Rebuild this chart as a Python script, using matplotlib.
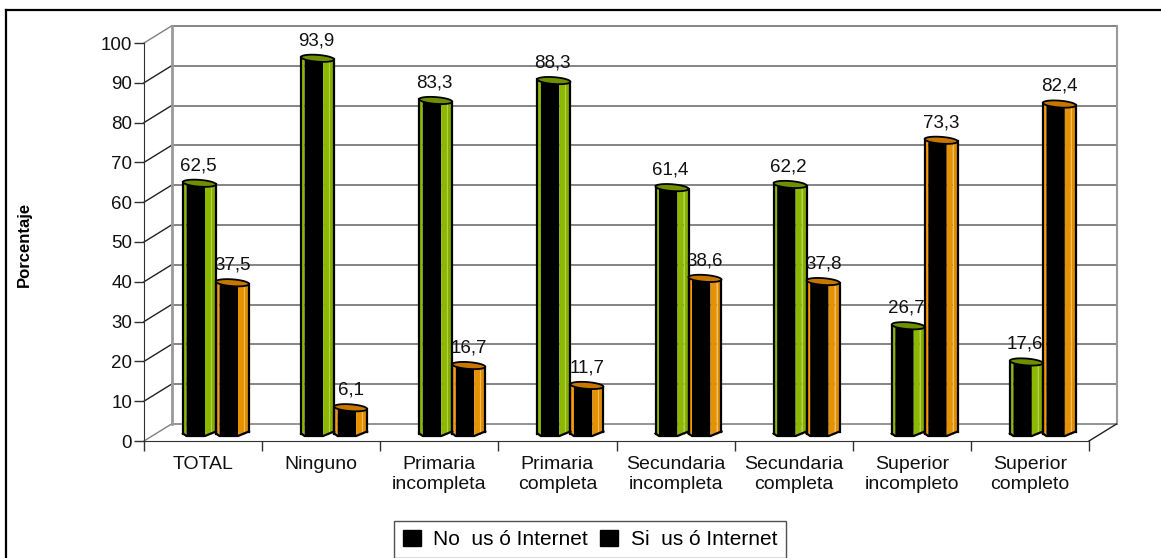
import numpy as np
import matplotlib
matplotlib.use('Agg')
import matplotlib.pyplot as plt
from matplotlib.lines import Line2D
from matplotlib.patches import Patch, Polygon

categories = ['TOTAL', 'Ninguno', 'Primaria\nincompleta', 'Primaria\ncompleta',
	'Secundaria\nincompleta', 'Secundaria\ncompleta', 'Superior\nincompleto', 'Superior\ncompleto']
no_uso = [62.5, 93.9, 83.3, 88.3, 61.4, 62.2, 26.7, 17.6]
si_uso = [37.5, 6.1, 16.7, 11.7, 38.6, 37.8, 73.3, 82.4]
no_labels = ['62,5', '93,9', '83,3', '88,3', '61,4', '62,2', '26,7', '17,6']
si_labels = ['37,5', '6,1', '16,7', '11,7', '38,6', '37,8', '73,3', '82,4']
y_ticks = list(range(0, 101, 10))

W, H = 1161, 558
plt.rcParams['font.family'] = ['Liberation Sans', 'DejaVu Sans']

fig = plt.figure(figsize=(W / 100, H / 100), dpi=100)
ax = fig.add_axes([144 / W, 1 - 441 / H, 945 / W, 398 / H])
ax.set_xlim(0, 8)
ax.set_ylim(0, 100)

# one pixel in data units
PX = 8 / 945
PY = 100 / 398
DX = 27.5 * PX
DY = 17 * PY
GREY = '#808080'

# back wall, floor and the slanted lines
for t in y_ticks:
	ax.plot([0, DX], [t, t + DY], color='#202020' if 0 < t < 100 else GREY, lw=1, clip_on=False, zorder=1)
	ax.plot([DX, 8 + DX], [t + DY, t + DY], color='#707070' if t else GREY, lw=1.2, clip_on=False, zorder=1)
ax.plot([DX, DX], [DY, 100 + DY], color='#999999', lw=2, clip_on=False, zorder=1)
ax.plot([8 + DX, 8 + DX], [DY, 100 + DY], color='#999999', lw=1.5, clip_on=False, zorder=1)
ax.plot([8, 8 + DX], [0, DY], color='#202020', lw=1, clip_on=False, zorder=1)


def draw_bar(xl, value, c_left, c_right, c_edge, c_top, c_shine):
	# bar is a flattened cylinder standing half way into the floor
	w = 33 * PX
	top = value + 9 * PY
	xs = xl + np.array([0, 3.5, 22, 28, 33]) * PX
	lo = np.array([7.5, 5, 5, 7.5, 9.5]) * PY
	tilt = np.array([1.2, 0.9, -0.4, -0.9, -1.2]) * PY
	t = np.linspace(0, 2 * np.pi, 60)
	for a, b, col in [(0, 1, c_left), (1, 2, 'black'), (2, 3, c_right), (3, 4, c_edge)]:
		ax.add_patch(Polygon([(xs[a], lo[a]), (xs[b], lo[b]), (xs[b], top + tilt[b]), (xs[a], top + tilt[a])],
			closed=True, fc=col, ec='none', clip_on=False, zorder=3))
	ax.plot([xs[3], xs[3]], [lo[3], top + tilt[3]], color=c_shine, lw=0.8, clip_on=False, zorder=4)
	ax.plot(xs, lo, color='black', lw=1.6, clip_on=False, zorder=4)
	ax.plot([xs[0], xs[0]], [lo[0], top + tilt[0]], color='black', lw=1.6, clip_on=False, zorder=4)
	ax.plot([xs[4], xs[4]], [lo[4], top + tilt[4]], color='black', lw=1.6, clip_on=False, zorder=4)
	ex = xl + w / 2 + w / 2 * np.cos(t)
	ey = top + (3.4 * np.sin(t) - 1.2 * np.cos(t)) * PY
	ax.add_patch(Polygon(np.column_stack([ex, ey]), closed=True, fc=c_top, ec='black', lw=1.3, clip_on=False, zorder=5))


for i in range(len(categories)):
	x1 = i + 39 * 8 / 945
	x2 = i + 72 * 8 / 945
	draw_bar(x1, no_uso[i], '#8DB800', '#8DB800', '#86AE00', '#6E9000', '#B4D24A')
	draw_bar(x2, si_uso[i], '#FF9900', '#E69100', '#DE8C00', '#C77700', '#F2BC60')
	ax.text(x1 + 15 * PX, no_uso[i] + 6.7, no_labels[i], ha='center', va='center', fontsize=13.5, color='#111111', zorder=6)
	ax.text(x2 + 16.5 * PX, si_uso[i] + 6.7, si_labels[i], ha='center', va='center', fontsize=13.5, color='#111111', zorder=6)

for side in ['top', 'right']:
	ax.spines[side].set_visible(False)
ax.patch.set_visible(False)
ax.spines['left'].set_color('#303030')
ax.spines['bottom'].set_color('#303030')
ax.set_yticks(y_ticks)
ax.set_xticks(range(9))
ax.set_xticklabels([])
ax.set_xticks(np.arange(8) + 0.5, categories, minor=True)
ax.tick_params(axis='x', which='major', length=7, width=1, color='#303030')
ax.tick_params(axis='x', which='minor', length=0, pad=11, labelsize=14, labelcolor='#111111')
ax.tick_params(axis='y', length=7, width=1, color='#303030', pad=1.5, labelsize=13.5, labelcolor='#111111')

fig.text(24 / W, 1 - 244 / H, 'Porcentaje', rotation=90, ha='center', va='center', fontsize=12, fontweight='bold')

handles = [Patch(fc='black', ec='black'), Patch(fc='black', ec='black')]
leg = ax.legend(handles, ['No  us ó Internet', 'Si  us ó Internet'], ncol=2, loc='center',
	bbox_to_anchor=(590 / W, 1 - 539.5 / H), bbox_transform=fig.transFigure, fontsize=15,
	fancybox=False, framealpha=1, edgecolor='#505050', handlelength=0.85, handleheight=0.8,
	handletextpad=0.6, columnspacing=0.6, borderpad=0.42, borderaxespad=0)
leg.get_frame().set_linewidth(1)

# chart frame is cut off on the right and at the bottom
fig.add_artist(Line2D([6 / W, 6 / W], [0, 1 - 9.5 / H], color='black', lw=1.6))
fig.add_artist(Line2D([6 / W, 1], [1 - 9.5 / H, 1 - 9.5 / H], color='black', lw=1.6))

fig.savefig('out.png', dpi=100)
